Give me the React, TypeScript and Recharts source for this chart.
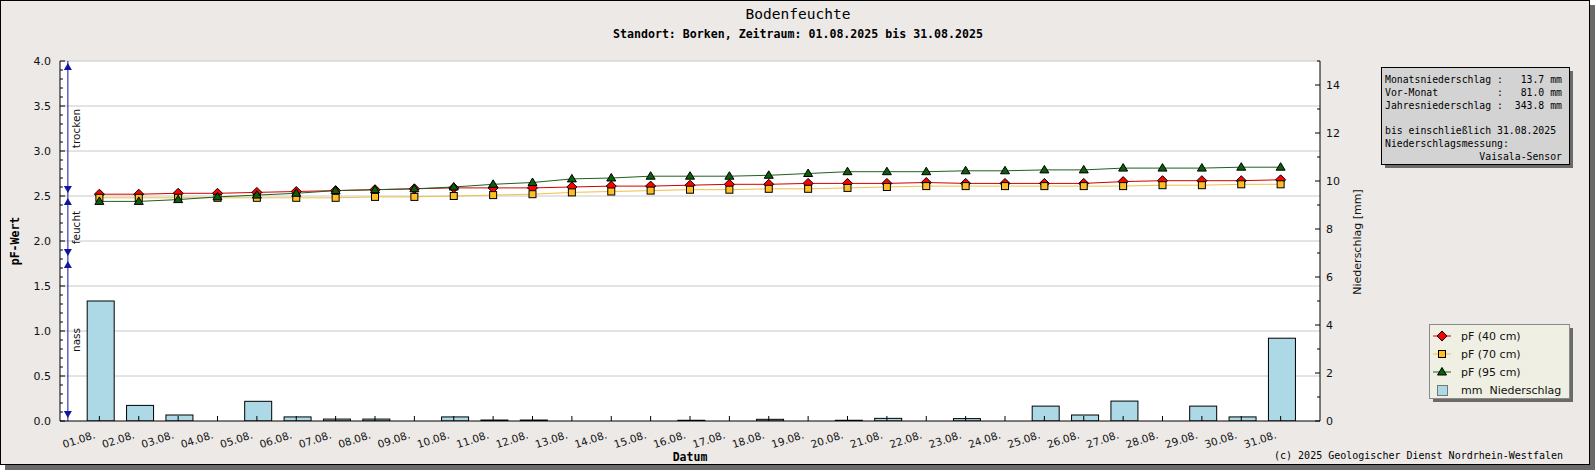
import React from 'react';
import {
  ComposedChart,
  Bar,
  Line,
  XAxis,
  YAxis,
  CartesianGrid,
  ReferenceLine,
  ReferenceDot,
} from 'recharts';

// --- data ---
const dayLabels = [
  '01.08.', '02.08.', '03.08.', '04.08.', '05.08.', '06.08.', '07.08.', '08.08.',
  '09.08.', '10.08.', '11.08.', '12.08.', '13.08.', '14.08.', '15.08.', '16.08.',
  '17.08.', '18.08.', '19.08.', '20.08.', '21.08.', '22.08.', '23.08.', '24.08.',
  '25.08.', '26.08.', '27.08.', '28.08.', '29.08.', '30.08.', '31.08.',
];

const pf40 = [
  2.52, 2.52, 2.53, 2.53, 2.54, 2.55, 2.56, 2.57, 2.58, 2.59, 2.59, 2.59, 2.60, 2.61, 2.61, 2.62,
  2.63, 2.63, 2.64, 2.64, 2.64, 2.65, 2.64, 2.64, 2.64, 2.64, 2.66, 2.67, 2.67, 2.67, 2.68,
];
const pf70 = [
  2.48, 2.48, 2.48, 2.48, 2.48, 2.48, 2.48, 2.49, 2.49, 2.50, 2.51, 2.52, 2.54, 2.55, 2.56, 2.57,
  2.57, 2.58, 2.58, 2.59, 2.60, 2.61, 2.61, 2.61, 2.61, 2.61, 2.61, 2.62, 2.62, 2.63, 2.63,
];
const pf95 = [
  2.44, 2.44, 2.46, 2.49, 2.51, 2.53, 2.56, 2.57, 2.58, 2.60, 2.63, 2.65, 2.69, 2.70, 2.72, 2.72,
  2.72, 2.73, 2.75, 2.77, 2.77, 2.77, 2.78, 2.78, 2.79, 2.79, 2.81, 2.81, 2.81, 2.82, 2.82,
];
const rainMm = [
  5.0, 0.65, 0.25, 0, 0.82, 0.17, 0.08, 0.08, 0, 0.17, 0.04, 0.04, 0, 0, 0, 0.03,
  0, 0.07, 0, 0.03, 0.11, 0, 0.1, 0, 0.62, 0.25, 0.83, 0, 0.62, 0.17, 3.45,
];

const pfTicks = [
  0, 0.1, 0.2, 0.3, 0.4, 0.5, 0.6, 0.7, 0.8, 0.9, 1.0, 1.1, 1.2, 1.3, 1.4, 1.5, 1.6, 1.7, 1.8, 1.9, 2.0,
  2.1, 2.2, 2.3, 2.4, 2.5, 2.6, 2.7, 2.8, 2.9, 3.0, 3.1, 3.2, 3.3, 3.4, 3.5, 3.6, 3.7, 3.8, 3.9, 4.0,
];
const pfGrid = [0.5, 1.0, 1.5, 2.0, 2.5, 3.0, 3.5, 4.0];
const mmTicks = [0, 1, 2, 3, 4, 5, 6, 7, 8, 9, 10, 11, 12, 13, 14, 15];

const zones = [
  { name: 'trocken', from: 4.0, to: 2.5 },
  { name: 'feucht', from: 2.5, to: 1.8 },
  { name: 'nass', from: 1.8, to: 0 },
];

const infoLines = [
  'Monatsniederschlag :   13.7 mm',
  'Vor-Monat          :   81.0 mm',
  'Jahresniederschlag :  343.8 mm',
  '',
  'bis einschließlich 31.08.2025',
  'Niederschlagsmessung:',
  '                Vaisala-Sensor',
];

const rows = dayLabels.map((label, i) => ({
  day: i + 1,
  label,
  pf40: pf40[i],
  pf70: pf70[i],
  pf95: pf95[i],
  rain: rainMm[i],
}));
const dayTicks = rows.map((r) => r.day);

const SANS = 'DejaVu Sans, sans-serif';
const MONO = 'DejaVu Sans Mono, monospace';
const ZONE_BLUE = '#1414a0';

const series = [
  { key: 'pf40', name: 'pF (40 cm)', line: '#d00000', fill: '#ff0000', marker: 'diamond' },
  { key: 'pf70', name: 'pF (70 cm)', line: '#f0c048', fill: '#ffbf24', marker: 'square' },
  { key: 'pf95', name: 'pF (95 cm)', line: '#1f5f1f', fill: '#0b5e0b', marker: 'triangle' },
];

const markerShape = (kind: string, cx: number, cy: number, fill: string) => {
  if (kind === 'diamond') {
    return <path d={`M${cx},${cy - 5}L${cx + 5},${cy}L${cx},${cy + 5}L${cx - 5},${cy}Z`} fill={fill} stroke="#000" strokeWidth={1} />;
  }
  if (kind === 'square') {
    return <rect x={cx - 3.5} y={cy - 3.5} width={7} height={7} fill={fill} stroke="#000" strokeWidth={1} />;
  }
  return <path d={`M${cx},${cy - 4.5}L${cx + 4.5},${cy + 3}L${cx - 4.5},${cy + 3}Z`} fill={fill} stroke="#000" strokeWidth={1} />;
};

const makeDot = (kind: string, fill: string) => (p: any) => (
  <g key={`${kind}-${p.index}`}>{markerShape(kind, p.cx, p.cy, fill)}</g>
);

// bars sit a hair right of the day tick in the original
const RainBar = (p: any) => {
  if (!p.height) return <g />;
  return <rect x={p.x + 1.5} y={p.y} width={p.width} height={p.height} fill="#add8e6" stroke="#000" strokeWidth={1} />;
};

const isMajor = (v: number) => Math.abs(v * 2 - Math.round(v * 2)) < 1e-6;

const PfTick = (props: any) => {
  const { x, y, payload } = props;
  const v = payload.value;
  const major = isMajor(v);
  return (
    <g>
      <line x1={x} x2={x + (major ? 5 : 3)} y1={y} y2={y} stroke="#000" />
      {major && (
        <text x={x - 9} y={y} dy="0.35em" textAnchor="end" fontFamily={SANS} fontSize={11} fill="#111">
          {v.toFixed(1)}
        </text>
      )}
    </g>
  );
};

const MmTick = (props: any) => {
  const { x, y, payload } = props;
  const v = payload.value;
  const major = v % 2 === 0;
  return (
    <g>
      <line x1={x} x2={x - (major ? 5 : 3)} y1={y} y2={y} stroke="#000" />
      {major && v < 15 && (
        <text x={x + 6} y={y} dy="0.35em" textAnchor="start" fontFamily={SANS} fontSize={11} fill="#111">
          {v}
        </text>
      )}
    </g>
  );
};

const DayTick = (props: any) => {
  const { x, y, payload } = props;
  const label = dayLabels[payload.value - 1];
  return (
    <g>
      <line x1={x} x2={x} y1={y} y2={y - 5} stroke="#000" />
      <text
        transform={`translate(${x - 3.5},${y + 17}) rotate(-18)`}
        textAnchor="end"
        fontFamily={SANS}
        fontSize={10.5}
        fill="#111"
      >
        {label}
      </text>
    </g>
  );
};

const arrowUp = (p: any) => (
  <path d={`M${p.cx},${p.cy + 2}L${p.cx + 4},${p.cy + 9}L${p.cx - 4},${p.cy + 9}Z`} fill={ZONE_BLUE} />
);
const arrowDown = (p: any) => (
  <path d={`M${p.cx},${p.cy - 3}L${p.cx + 4},${p.cy - 10}L${p.cx - 4},${p.cy - 10}Z`} fill={ZONE_BLUE} />
);
const zoneLabel = (name: string) => (p: any) => (
  <text
    x={p.cx + 8.5}
    y={p.cy}
    transform={`rotate(-90, ${p.cx + 8.5}, ${p.cy})`}
    textAnchor="middle"
    dominantBaseline="central"
    fontFamily={SANS}
    fontSize={10.5}
    fill="#111"
  >
    {name}
  </text>
);

const ZONE_X = 0.2;

export default function App() {
  return (
    <div style={{ position: 'relative', width: 1595, height: 470, overflow: 'hidden' }}>
      <style>{'body{margin:0}'}</style>
      {/* frame with drop shadow */}
      <div
        style={{
          position: 'absolute',
          left: 0,
          top: 0,
          width: 1590,
          height: 465,
          boxSizing: 'border-box',
          border: '1px solid #000',
          background: '#ece9e7',
          boxShadow: '5px 5px 0 #6a6a6a',
        }}
      />
      <div style={{ position: 'absolute', left: 0, top: 0 }}>
        <ComposedChart
          width={1595}
          height={470}
          data={rows}
          margin={{ top: 61, right: 215, bottom: 9, left: 0 }}
        >
          <CartesianGrid
            yAxisId="pf"
            vertical={false}
            horizontalValues={pfGrid}
            stroke="#c8c8c8"
            fill="#ffffff"
          />
          <XAxis
            type="number"
            dataKey="day"
            domain={[0, 32]}
            ticks={dayTicks}
            interval={0}
            allowDataOverflow
            height={40}
            tickSize={0}
            tickMargin={0}
            tickLine={false}
            axisLine={{ stroke: '#000' }}
            tick={<DayTick />}
          />
          <YAxis
            yAxisId="pf"
            orientation="left"
            domain={[0, 4]}
            ticks={pfTicks}
            interval={0}
            allowDataOverflow
            width={60}
            tickSize={0}
            tickMargin={0}
            tickLine={false}
            axisLine={{ stroke: '#000' }}
            tick={<PfTick />}
          />
          <YAxis
            yAxisId="mm"
            orientation="right"
            domain={[0, 15]}
            ticks={mmTicks}
            interval={0}
            allowDataOverflow
            width={60}
            tickSize={0}
            tickMargin={0}
            tickLine={false}
            axisLine={{ stroke: '#000' }}
            tick={<MmTick />}
          />
          <Bar
            yAxisId="mm"
            dataKey="rain"
            name="mm  Niederschlag"
            barSize={27}
            fill="#add8e6"
            stroke="#000"
            strokeWidth={1}
            shape={RainBar}
            isAnimationActive={false}
          />
          {series.map((s) => (
            <Line
              key={s.key}
              yAxisId="pf"
              type="linear"
              dataKey={s.key}
              name={s.name}
              stroke={s.line}
              strokeWidth={1}
              dot={makeDot(s.marker, s.fill)}
              activeDot={false}
              isAnimationActive={false}
            />
          ))}
          <ReferenceLine
            yAxisId="pf"
            segment={[
              { x: ZONE_X, y: 4 },
              { x: ZONE_X, y: 0 },
            ]}
            stroke={ZONE_BLUE}
            strokeWidth={1}
          />
          {zones.map((z) => (
            <ReferenceDot key={`${z.name}-up`} yAxisId="pf" x={ZONE_X} y={z.from} shape={arrowUp} />
          ))}
          {zones.map((z) => (
            <ReferenceDot key={`${z.name}-down`} yAxisId="pf" x={ZONE_X} y={z.to} shape={arrowDown} />
          ))}
          {zones.map((z) => (
            <ReferenceDot
              key={`${z.name}-label`}
              yAxisId="pf"
              x={ZONE_X}
              y={(z.from + z.to) / 2}
              shape={zoneLabel(z.name)}
            />
          ))}
        </ComposedChart>
      </div>

      {/* titles, axis titles, legend, info box */}
      <svg
        width={1595}
        height={470}
        style={{ position: 'absolute', left: 0, top: 0, pointerEvents: 'none' }}
      >
        <text x={798} y={14} textAnchor="middle" dominantBaseline="central" fontFamily={MONO} fontSize={14.5} fill="#000">
          Bodenfeuchte
        </text>
        <text x={798} y={33.5} textAnchor="middle" dominantBaseline="central" fontFamily={MONO} fontWeight="bold" fontSize={11.6} fill="#000">
          Standort: Borken, Zeitraum: 01.08.2025 bis 31.08.2025
        </text>
        <text
          x={15}
          y={241}
          transform="rotate(-90, 15, 241)"
          textAnchor="middle"
          dominantBaseline="central"
          fontFamily={MONO}
          fontWeight="bold"
          fontSize={11.5}
          fill="#000"
        >
          pF-Wert
        </text>
        <text
          x={1357}
          y={242}
          transform="rotate(-90, 1357, 242)"
          textAnchor="middle"
          dominantBaseline="central"
          fontFamily={SANS}
          fontSize={11}
          fill="#111"
        >
          Niederschlag [mm]
        </text>
        <text x={690} y={457} textAnchor="middle" dominantBaseline="central" fontFamily={MONO} fontWeight="bold" fontSize={11.5} fill="#000">
          Datum
        </text>
        <text x={1563} y={455} textAnchor="end" dominantBaseline="central" fontFamily={MONO} fontSize={10} fill="#000">
          (c) 2025 Geologischer Dienst Nordrhein-Westfalen
        </text>

        {/* info box */}
        <rect x={1385} y={71} width={188} height={97} fill="#6a6a6a" />
        <rect x={1381.5} y={67.5} width={188} height={97} fill="#d3d3d3" stroke="#000" />
        {infoLines.map((line, i) => (
          <text
            key={i}
            x={1385}
            y={79.7 + i * 12.8}
            dominantBaseline="central"
            fontFamily={MONO}
            fontSize={9.8}
            fill="#000"
            xmlSpace="preserve"
            style={{ whiteSpace: 'pre' }}
          >
            {line}
          </text>
        ))}

        {/* legend */}
        <rect x={1433} y={328} width={140} height={74} fill="#6a6a6a" />
        <rect x={1429.5} y={324.5} width={140} height={74} fill="#efefe3" stroke="#8a8a8a" />
        {series.map((s, i) => (
          <g key={s.key}>
            <line x1={1433} x2={1451} y1={336 + i * 18} y2={336 + i * 18} stroke={s.line} />
            {markerShape(s.marker, 1442, 336 + i * 18, s.fill)}
            <text x={1461} y={336 + i * 18} dominantBaseline="central" fontFamily={SANS} fontSize={11} fill="#111">
              {s.name}
            </text>
          </g>
        ))}
        <rect x={1437.5} y={385.5} width={10} height={10} fill="#add8e6" stroke="#777" />
        <text
          x={1461}
          y={390}
          dominantBaseline="central"
          fontFamily={SANS}
          fontSize={11}
          fill="#111"
          xmlSpace="preserve"
          style={{ whiteSpace: 'pre' }}
        >
          mm  Niederschlag
        </text>
      </svg>
    </div>
  );
}
